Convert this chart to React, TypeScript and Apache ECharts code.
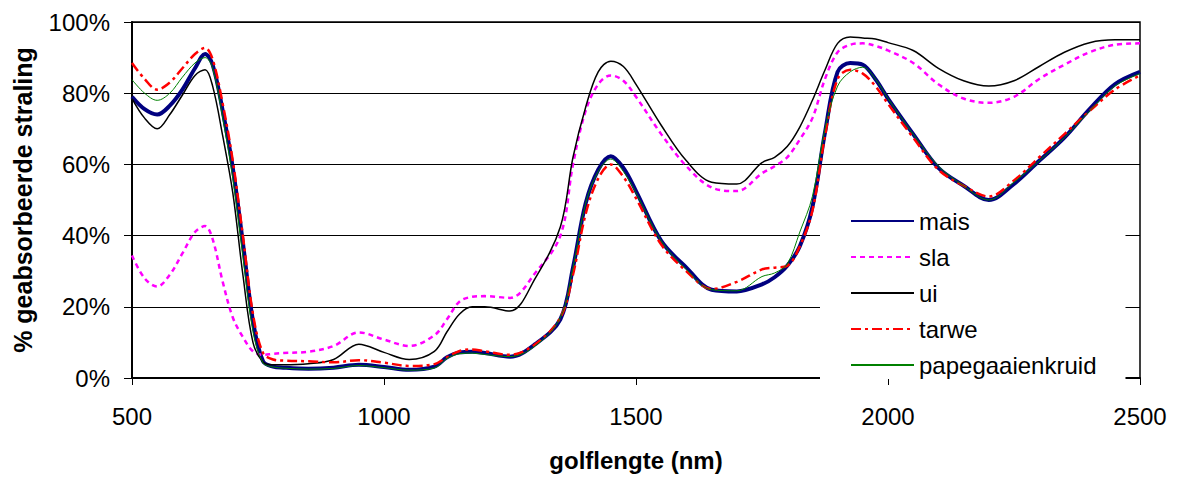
import React, { useEffect, useRef } from "react";
import * as echarts from "echarts";

const wavelengths = [500, 525, 550, 575, 600, 625, 645, 660, 680, 700, 720, 740, 760, 780, 800, 850, 900, 950, 1000, 1050, 1100, 1125, 1150, 1175, 1200, 1250, 1300, 1350, 1375, 1400, 1425, 1450, 1475, 1500, 1550, 1600, 1650, 1700, 1750, 1775, 1800, 1825, 1850, 1875, 1900, 1925, 1950, 1975, 2000, 2050, 2100, 2150, 2200, 2250, 2300, 2350, 2400, 2450, 2500];

const mais = [79, 75.5, 74, 76.5, 81, 87, 91, 88, 75, 59, 38, 16, 4.7, 3.2, 2.9, 2.6, 2.9, 3.7, 3.1, 2.3, 3.2, 5.8, 7.2, 7.4, 7, 6, 9.5, 16.5, 31, 49, 58.5, 62.3, 59, 52.5, 38.5, 31, 24.8, 24.3, 26.3, 28.3, 31.5, 37, 48, 69, 86, 88.5, 88, 84, 78.5, 68.5, 59, 54, 50, 54.5, 61, 67.5, 75.5, 82.5, 86];
const sla = [34.4, 28, 25.7, 29, 35, 41, 42.7, 39, 27, 17, 11.5, 7.5, 6.5, 6.8, 7, 7.4, 9, 12.8, 10.8, 9, 12, 16.5, 21.5, 22.8, 23, 22.5, 29.5, 40, 60, 75, 82.5, 85, 83.5, 79, 68.5, 59.5, 53.5, 52.5, 57.5, 59.5, 62, 67, 73, 84, 91.5, 93.6, 94, 93.3, 92, 88.5, 82.5, 78.5, 77.3, 79, 84, 88, 91.5, 93.6, 94];
const ui = [78.5, 73, 70, 74, 79.5, 85, 86.6, 82, 68, 52, 29, 10, 4.5, 3.7, 3.7, 4, 5.2, 9.5, 7.2, 5.2, 7.5, 13, 18, 20, 20, 18.8, 28, 42.5, 62, 76, 86, 89, 87.5, 82.5, 71, 61, 55, 54.5, 60.5, 62, 65, 70.5, 78, 86.5, 94, 95.8, 95.5, 95.2, 94.2, 92, 87, 83.5, 82, 83.5, 87.5, 91.5, 94.2, 95, 95];
const tarwe = [88.5, 84, 81, 83, 87, 91, 92.7, 89.5, 77, 61, 40, 18, 7, 5.2, 4.9, 4.7, 4.4, 5, 4.3, 3.4, 3.9, 5.8, 7.6, 8, 7.5, 6.5, 9.5, 17, 29, 46, 56, 60, 56.5, 50.5, 37.5, 30, 25, 27, 30.5, 31, 31.5, 37, 47, 68, 84, 86.6, 85.5, 82, 77, 67.5, 58.5, 54, 51, 55.5, 62, 68.5, 75, 81, 85];
const papegaaienkruid = [83.8, 80, 78, 80, 84.5, 88.5, 90, 87, 73, 56, 34, 13, 4.2, 3.1, 2.8, 2.5, 2.7, 3.5, 2.9, 2.2, 2.8, 5.5, 6.8, 7, 6.6, 6, 9, 17, 31, 49, 58, 61.5, 58, 52, 38.5, 30.5, 24.8, 24.5, 28.5, 29.5, 32, 41, 51, 70, 82, 86, 87.3, 84, 78.5, 68.5, 59.5, 54, 50, 55, 61, 67.5, 75, 82, 85.5];

const yTicks = [0, 20, 40, 60, 80, 100];
const xTicks = [500, 1000, 1500, 2000, 2500];

const FONT = 'Arial, "Liberation Sans", sans-serif';

const zip = (ys: number[]) => wavelengths.map((w, i) => [w, ys[i]]);

export default function App() {
  const ref = useRef<HTMLDivElement>(null);
  useEffect(() => {
    if (!ref.current) return;
    const chart = echarts.init(ref.current, undefined, { renderer: "svg" });
    const mk = (name: string, ys: number[], color: string, width: number, type: any) => ({
      name,
      type: "line",
      data: zip(ys),
      smooth: 0.35,
      symbol: "none",
      showSymbol: false,
      lineStyle: { color, width, type },
      itemStyle: { color },
    });
    chart.setOption({
      animation: false,
      textStyle: { fontFamily: FONT },
      grid: {
        left: 132,
        right: 39,
        top: 22,
        bottom: 97,
        show: true,
        borderColor: "#000",
        borderWidth: 1.5,
      },
      xAxis: {
        type: "value",
        min: xTicks[0],
        max: xTicks[xTicks.length - 1],
        interval: 500,
        name: "golflengte (nm)",
        nameLocation: "middle",
        nameGap: 70,
        nameTextStyle: { fontSize: 24, fontWeight: "bold", color: "#000", fontFamily: FONT },
        axisLine: { lineStyle: { color: "#000", width: 2 } },
        axisTick: { show: true, length: 7, lineStyle: { color: "#000", width: 1 } },
        axisLabel: {
          fontSize: 24,
          color: "#000",
          margin: 26,
          fontFamily: FONT,
          formatter: (v: number) => String(v),
        },
        splitLine: { show: false },
      },
      yAxis: {
        type: "value",
        min: yTicks[0],
        max: yTicks[yTicks.length - 1],
        interval: 20,
        name: "% geabsorbeerde straling",
        nameLocation: "middle",
        nameGap: 97,
        nameTextStyle: { fontSize: 25, fontWeight: "bold", color: "#000", fontFamily: FONT },
        axisLine: { show: true, lineStyle: { color: "#000", width: 2 } },
        axisTick: { show: true, length: 8, lineStyle: { color: "#000", width: 1 } },
        axisLabel: { fontSize: 24, color: "#000", margin: 22, formatter: "{value}%", fontFamily: FONT },
        splitLine: { show: true, lineStyle: { color: "#000", width: 1 } },
      },
      legend: {
        orient: "vertical",
        left: 820,
        top: 203,
        padding: [6, 29, 2, 30],
        itemWidth: 63,
        itemHeight: 14,
        itemGap: 12,
        backgroundColor: "#fff",
        itemStyle: { opacity: 0, borderWidth: 0 },
        textStyle: { fontSize: 24, color: "#000", fontFamily: FONT },
        data: ["mais", "sla", "ui", "tarwe", "papegaaienkruid"],
      },
      series: [
        mk("mais", mais, "#000080", 4, "solid"),
        mk("sla", sla, "#FF00FF", 2.5, [5, 4]),
        mk("ui", ui, "#000000", 1.5, "solid"),
        mk("tarwe", tarwe, "#FF0000", 2.5, [10, 4, 3, 4]),
        mk("papegaaienkruid", papegaaienkruid, "#008000", 1, "solid"),
      ],
    });
    return () => chart.dispose();
  }, []);
  return (
    <div
      ref={ref}
      style={{ position: "fixed", left: 0, top: 0, width: 1179, height: 477, background: "#fff" }}
    />
  );
}
